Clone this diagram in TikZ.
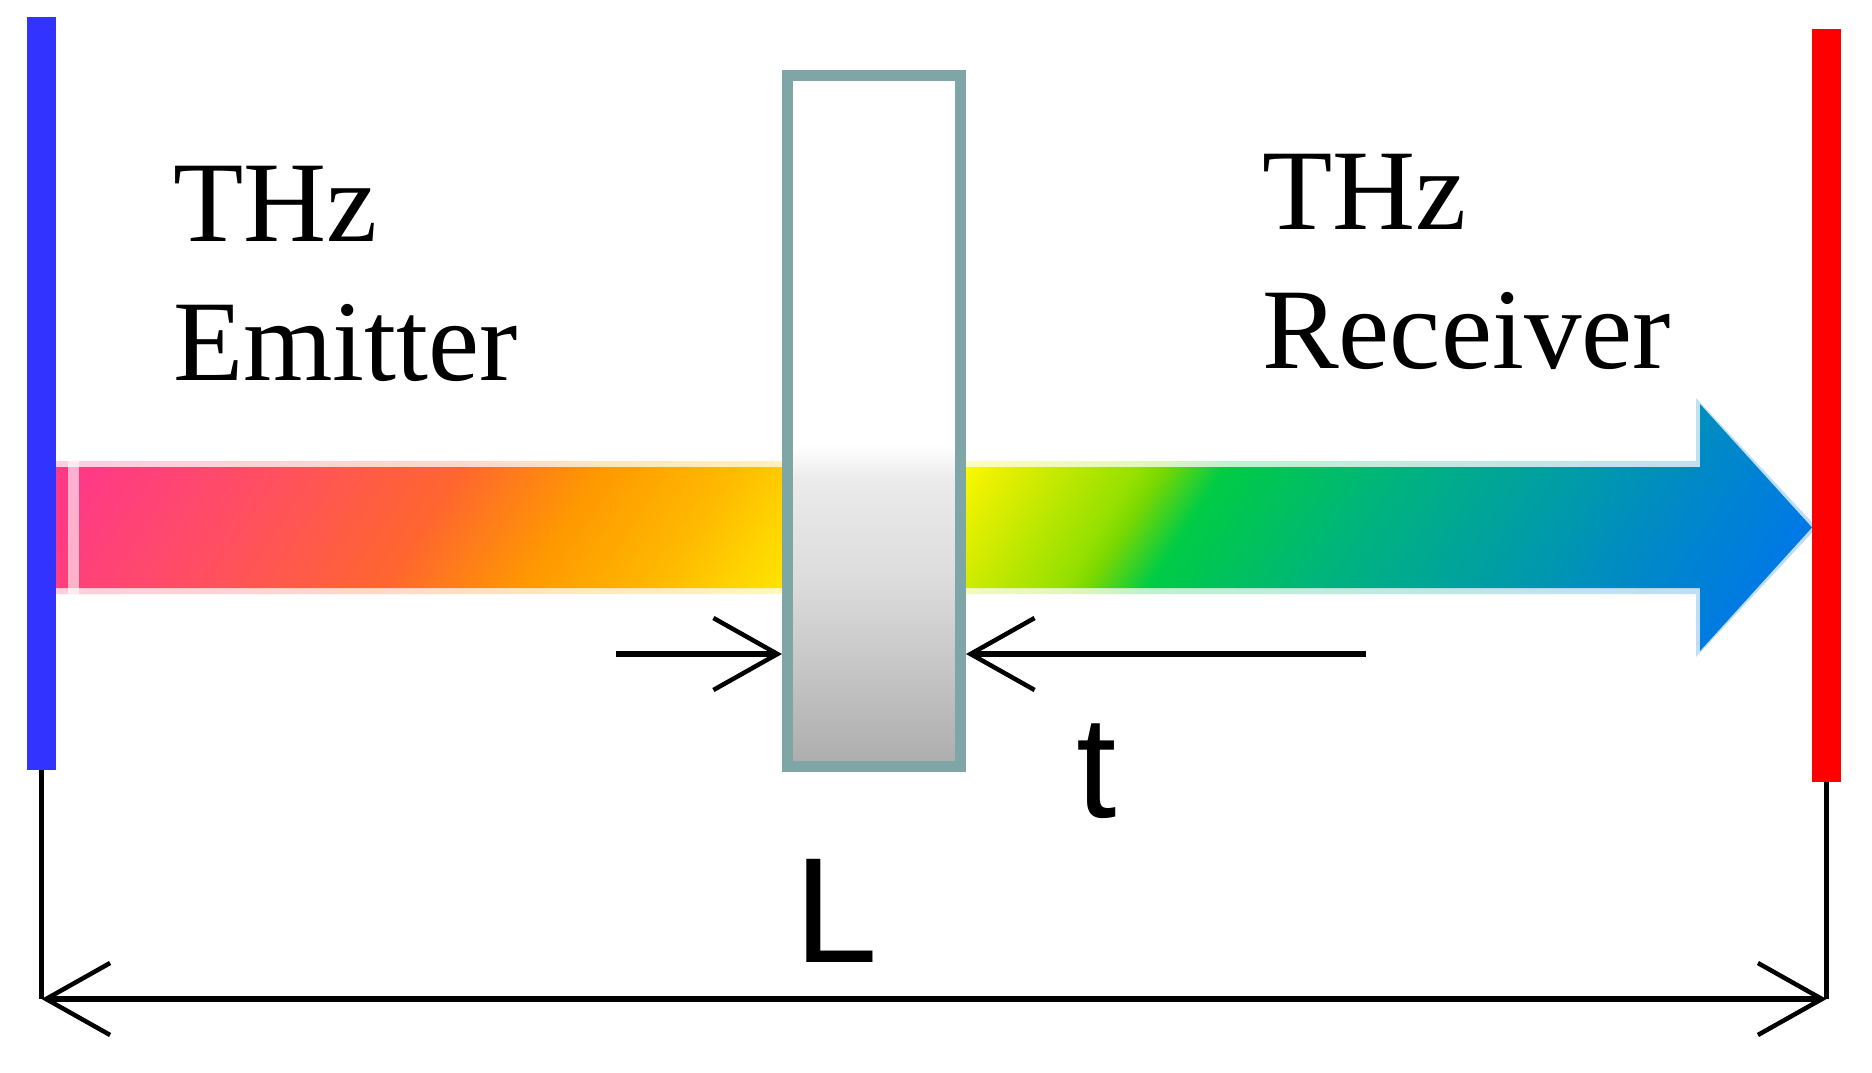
\documentclass[tikz,border=0pt]{standalone}
\usepackage{fontspec}
\setmainfont{Liberation Serif}
\newfontfamily\arialfont{Liberation Sans}
\usetikzlibrary{arrows.meta}
\definecolor{emitblue}{HTML}{3333FF}
\definecolor{recred}{HTML}{FF0000}
\definecolor{slabedge}{HTML}{7FA6A6}
\definecolor{c1}{HTML}{FF3A85}
\definecolor{c2}{HTML}{FF5060}
\definecolor{c3}{HTML}{FF6530}
\definecolor{c4}{HTML}{FF9900}
\definecolor{c5}{HTML}{FFBB00}
\definecolor{c6}{HTML}{FFD800}
\definecolor{c6b}{HTML}{FFFF00}
\definecolor{c7}{HTML}{E8F000}
\definecolor{c8}{HTML}{95E000}
\definecolor{c9}{HTML}{7AD800}
\definecolor{c10}{HTML}{00CC44}
\definecolor{c11}{HTML}{00B57A}
\definecolor{c12}{HTML}{00A0A0}
\definecolor{c13}{HTML}{0088C8}
\definecolor{c14}{HTML}{0078E8}
\definecolor{g1}{HTML}{ACACAC}
\definecolor{g2}{HTML}{C3C3C3}
\definecolor{g3}{HTML}{DCDCDC}
\definecolor{g4}{HTML}{EBEBEB}
\pgfdeclarehorizontalshading{thzrainbow}{100bp}{color(0bp)=(c1); color(30.80bp)=(c1); color(35.00bp)=(c2); color(39.09bp)=(c3); color(42.39bp)=(c4); color(45.45bp)=(c5); color(47.36bp)=(c6); color(50.34bp)=(c6b); color(51.41bp)=(c7); color(54.55bp)=(c8); color(55.11bp)=(c9); color(56.48bp)=(c10); color(60.23bp)=(c11); color(63.86bp)=(c12); color(67.50bp)=(c13); color(70.73bp)=(c14); color(100bp)=(c14)}
\pgfdeclareverticalshading{slabgrad}{100bp}{color(0bp)=(g1); color(25bp)=(g1); color(31.26bp)=(g2); color(38.50bp)=(g3); color(45.73bp)=(g4); color(48.26bp)=(white); color(100bp)=(white)}
\tikzset{
  bar/.style={inner sep=0pt, outer sep=0pt, minimum width=29pt, minimum height=753pt},
  slabbox/.style={draw=slabedge, line width=11pt, shading=slabgrad, inner sep=0pt, minimum width=173pt, minimum height=691pt},
  dimline/.style={line width=5.5pt},
  dimtip/.style={-{Straight Barb[length=64pt, width=72pt, line width=4.5pt]}},
  dimboth/.style={{Straight Barb[length=64pt, width=72pt, line width=4.5pt]}-{Straight Barb[length=64pt, width=72pt, line width=4.5pt]}},
  seriflbl/.style={inner sep=0pt, anchor=base west, font=\fontsize{115}{139}\selectfont},
  sanslbl/.style={inner sep=0pt, anchor=base}
}
\begin{document}
\begin{tikzpicture}[x=1pt, y=-1pt]
\useasboundingbox (0,0) rectangle (1872,1073);
\fill[white] (0,0) rectangle (1872,1073);
% soft fringe of the beam arrow
\begin{scope}
  \clip (55,461) -- (1696,461) -- (1696,398) -- (1817,527.5) -- (1696,657) -- (1696,594) -- (55,594) -- cycle;
  \begin{scope}[opacity=0.25, transform canvas={shift={(0,527.5)}, xslant=0.65}]
    \shade[shading=thzrainbow] (-200,-140) rectangle (2000,140);
  \end{scope}
\end{scope}
% beam arrow
\begin{scope}
  \clip (55,467) -- (1700,467) -- (1700,404) -- (1812,527.5) -- (1700,651) -- (1700,588) -- (55,588) -- cycle;
  \begin{scope}[transform canvas={shift={(0,527.5)}, xslant=0.65}]
    \shade[shading=thzrainbow] (-200,-140) rectangle (2000,140);
  \end{scope}
\end{scope}
\fill[white, opacity=0.6] (68,461) rectangle (79,594);
% sample slab
\node[slabbox] (slab) at (874,421) {};
% emitter and receiver
\node[bar, fill=emitblue] (emitter) at (41.5,393.5) {};
\node[bar, fill=recred] (receiver) at (1826.5,405.5) {};
% thickness t
\coordinate (tL) at (616,654);
\coordinate (tR) at (1366,654);
\draw[dimline, dimtip] (tL) -- (slab.west |- tL);
\draw[dimline, dimtip] (tR) -- (slab.east |- tR);
% distance L
\coordinate (base) at (0,999);
\draw[dimline] (emitter.south) -- (emitter.south |- base);
\draw[dimline] (receiver.south) -- (receiver.south |- base);
\draw[dimline, dimboth] (emitter.south |- base) -- (receiver.south |- base);
% labels
\node[seriflbl] (em1) at (173,241) {THz};
\node[seriflbl] (em2) at (173,380) {Emitter};
\node[seriflbl] (rc1) at (1262,229) {THz};
\node[seriflbl] (rc2) at (1262,368) {Receiver};
\node[sanslbl, font=\arialfont\fontsize{145}{145}\selectfont] (tlab) at (1097,817) {t};
\node[sanslbl, font=\arialfont\fontsize{150}{150}\selectfont] (Llab) at (836,962) {L};
\end{tikzpicture}
\end{document}
